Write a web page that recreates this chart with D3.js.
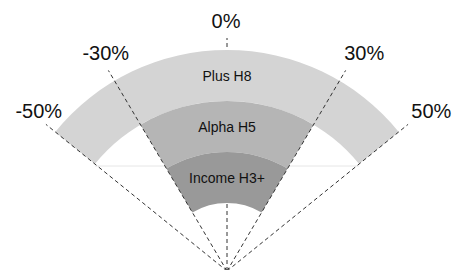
<!DOCTYPE html>
<html>
<head>
<meta charset="utf-8">
<script src="https://cdn.jsdelivr.net/npm/d3@7"></script>
<style>
  html, body { margin: 0; padding: 0; background: #fff; }
  svg { display: block; }
</style>
</head>
<body>
<svg id="chart" width="461" height="270"></svg>
<script>
// Data
const tickValues = [-50, -30, 0, 30, 50];
const tickLabels = ["-50%", "-30%", "0%", "30%", "50%"];
const bandNames = ["Plus H8", "Alpha H5", "Income H3+"];
const bandStart = [-50, -30, -30];
const bandEnd = [50, 30, 30];
const bandLevel = [3, 2, 1];   // ring index (outer = 3)
const bandColors = ["#d4d4d4", "#b5b5b5", "#999999"];

const svg = d3.select("#chart");
const cx = 227, cy = 271;

const angle = d3.scaleLinear().domain([-50, 50]).range([-51 * Math.PI / 180, 51 * Math.PI / 180]);
const radius = d3.scaleLinear().domain([0, 3]).range([68, 221]);

const g = svg.append("g").attr("transform", `translate(${cx},${cy})`);

const lineR = 233, labelR = 250;
const pt = (v, r) => [Math.sin(angle(v)) * r, -Math.cos(angle(v)) * r];

// 0% line (behind bands)
g.selectAll("line.zero").data(tickValues.filter(v => v === 0)).enter().append("line")
  .attr("class", "zero")
  .attr("x1", 0).attr("y1", 0)
  .attr("x2", d => pt(d, lineR)[0]).attr("y2", d => pt(d, lineR)[1])
  .attr("stroke", "#333").attr("stroke-width", 1).attr("stroke-dasharray", "4,3");

// faint chord across the outer band ends
const outerInnerR = radius(2);
g.append("line")
  .attr("x1", pt(bandStart[0], outerInnerR)[0]).attr("y1", pt(bandStart[0], outerInnerR)[1] + 2)
  .attr("x2", pt(bandEnd[0], outerInnerR)[0]).attr("y2", pt(bandEnd[0], outerInnerR)[1] + 2)
  .attr("stroke", "#e6e6e6").attr("stroke-width", 1);

// Bands
const arc = d3.arc();
const bands = bandNames.map((n, i) => ({
  name: n,
  innerRadius: radius(bandLevel[i] - 1),
  outerRadius: radius(bandLevel[i]),
  startAngle: angle(bandStart[i]),
  endAngle: angle(bandEnd[i]),
  color: bandColors[i]
}));

g.selectAll("path.band").data(bands).enter().append("path")
  .attr("class", "band")
  .attr("d", d => arc(d))
  .attr("fill", d => d.color);

g.selectAll("text.band").data(bands).enter().append("text")
  .attr("class", "band")
  .attr("x", 0)
  .attr("y", d => -(d.innerRadius + d.outerRadius) / 2)
  .attr("text-anchor", "middle")
  .attr("dominant-baseline", "central")
  .attr("font-family", "'Liberation Sans', Arial, sans-serif")
  .attr("font-size", 14)
  .attr("fill", "#111")
  .text(d => d.name);

// Other dashed lines (on top)
g.selectAll("line.tick").data(tickValues.filter(v => v !== 0)).enter().append("line")
  .attr("class", "tick")
  .attr("x1", 0).attr("y1", 0)
  .attr("x2", d => pt(d, lineR)[0]).attr("y2", d => pt(d, lineR)[1])
  .attr("stroke", "#333").attr("stroke-width", 1).attr("stroke-dasharray", "4,3");

// Tick labels
const dx = d => d < 0 ? 6 : d > 0 ? 10 : -1;
const dy = d => d === 0 ? 0 : -3;
g.selectAll("text.tl").data(tickValues).enter().append("text")
  .attr("class", "tl")
  .attr("x", d => pt(d, labelR)[0] + dx(d))
  .attr("y", d => pt(d, labelR)[1] + dy(d))
  .attr("text-anchor", "middle")
  .attr("dominant-baseline", "central")
  .attr("font-family", "'Liberation Sans', Arial, sans-serif")
  .attr("font-size", 20)
  .attr("fill", "#111")
  .text((d, i) => tickLabels[i]);
</script>
</body>
</html>
